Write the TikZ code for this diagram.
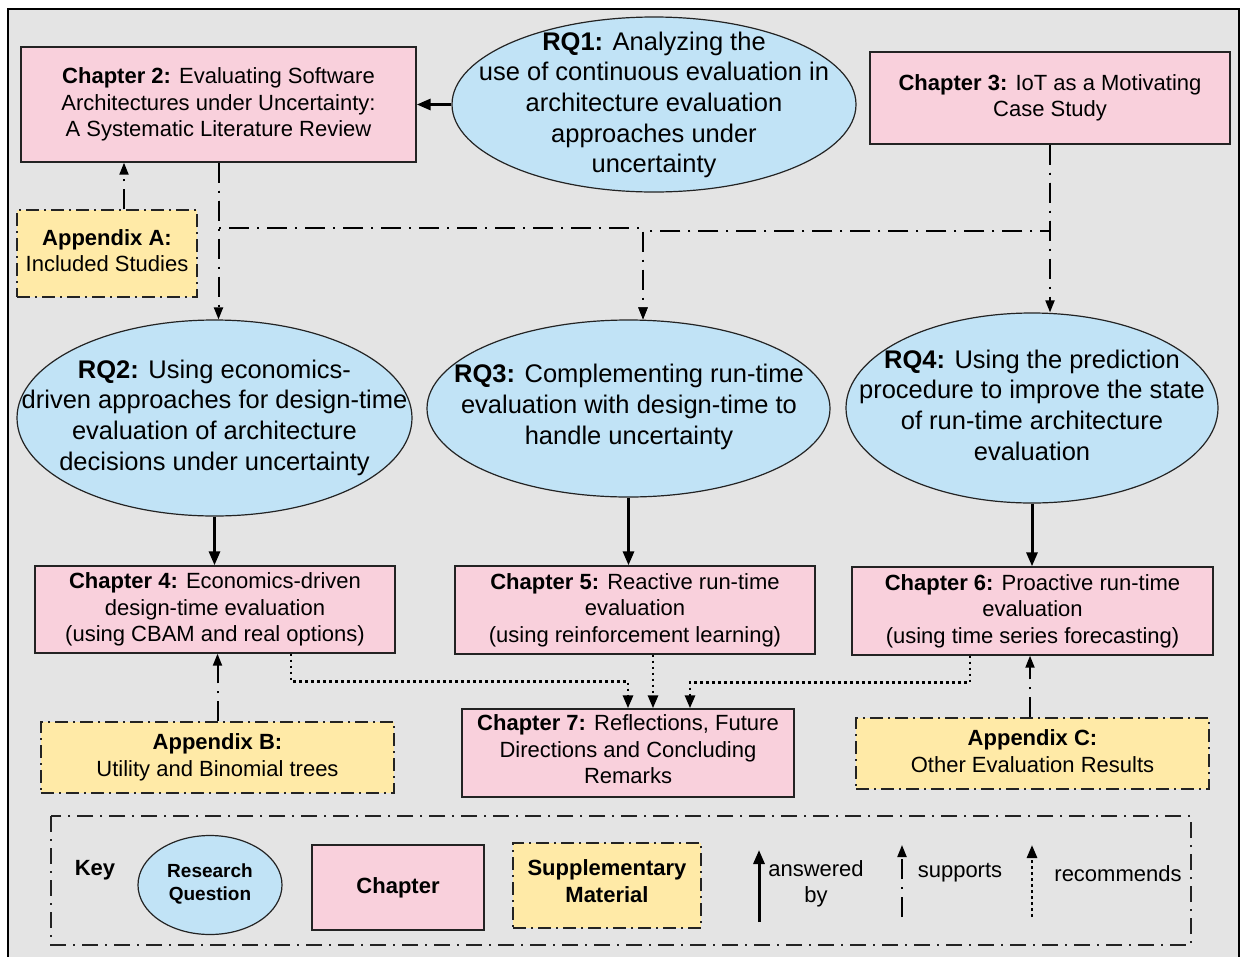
\documentclass[tikz,border=0pt]{standalone}
\usepackage{fontspec}
\setmainfont{Liberation Sans}
\usetikzlibrary{arrows.meta,shapes.geometric}

\definecolor{bggray}{RGB}{228,228,228}
\definecolor{chpink}{RGB}{249,208,220}
\definecolor{rqblue}{RGB}{193,227,246}
\definecolor{appyellow}{RGB}{255,234,167}
\definecolor{edge}{RGB}{35,35,35}

\newcommand\chfont{\fontsize{22}{26.5}\selectfont}
\newcommand\rqfont{\fontsize{25.5}{30.7}\selectfont}
\newcommand\keyrqfont{\fontsize{19}{23}\selectfont}

\tikzset{
  chapter/.style={draw=edge, line width=1.4pt, fill=chpink, align=center,
    inner sep=0pt, font=\chfont},
  rq/.style={ellipse, draw=edge, line width=1.2pt, fill=rqblue, inner sep=0pt},
  rqtext/.style={align=center, font=\rqfont, inner sep=0pt},
  appendixbox/.style={draw=edge, line width=1.3pt, fill=appyellow, align=center,
    inner sep=0pt, font=\chfont, dash pattern=on 13pt off 5pt on 2pt off 5pt},
  answered/.style={draw=black, line width=3pt, -{Triangle[length=14pt,width=11pt]}},
  supports/.style={draw=black, line width=2pt,
    dash pattern=on 20pt off 8pt on 2pt off 8pt, -{Triangle[length=12pt,width=9pt]}},
  recommends/.style={draw=black, line width=2.8pt,
    dash pattern=on 2.6pt off 3.4pt, -{Triangle[length=13pt,width=10pt]}},
  keylabel/.style={align=center, font=\chfont, inner sep=0pt},
}

\begin{document}
\begin{tikzpicture}[x=1pt, y=-1pt]
\useasboundingbox (0,0) rectangle (1245,956);

% canvas
\draw[fill=bggray, draw=black, line width=1.5pt] (8,9) rectangle (1239,966);

% top row
\node[chapter, minimum width=395pt, minimum height=115pt] (ch2) at (218.5,104.5)
  {\textbf{Chapter 2:} Evaluating Software\\Architectures under Uncertainty:\\A Systematic Literature Review};
\node[rq, minimum width=404pt, minimum height=175pt] (rq1) at (654,104.5) {};
\node[rqtext] at (654,105)
  {\textbf{RQ1:} Analyzing the\\use of continuous evaluation in\\architecture evaluation\\approaches under\\uncertainty};
\node[chapter, minimum width=360pt, minimum height=92pt] (ch3) at (1050,98)
  {\textbf{Chapter 3:} IoT as a Motivating\\Case Study};
\node[appendixbox, minimum width=180pt, minimum height=87pt] (appA) at (107,253.5)
  {\textbf{Appendix A:}\\Included Studies\rule[-6pt]{0pt}{4pt}};

% research questions
\node[rq, minimum width=395pt, minimum height=196pt] (rq2) at (214.5,418) {};
\node[rqtext] at (214.5,417.5)
  {\textbf{RQ2:} Using economics-\\driven approaches for design-time\\evaluation of architecture\\decisions under uncertainty};
\node[rq, minimum width=403pt, minimum height=177pt] (rq3) at (628.5,408.5) {};
\node[rqtext] at (629,407)
  {\textbf{RQ3:} Complementing run-time\\evaluation with design-time to\\handle uncertainty};
\node[rq, minimum width=372pt, minimum height=190pt] (rq4) at (1032,408) {};
\node[rqtext] at (1032,405)
  {\textbf{RQ4:} Using the prediction\\procedure to improve the state\\of run-time architecture\\evaluation};

% chapters 4--7
\node[chapter, minimum width=360pt, minimum height=87pt] (ch4) at (215,609.5)
  {\textbf{Chapter 4:} Economics-driven\\design-time evaluation\\(using CBAM and real options)};
\node[chapter, minimum width=360pt, minimum height=88pt] (ch5) at (635,610)
  {\textbf{Chapter 5:} Reactive run-time\\evaluation\\(using reinforcement learning)};
\node[chapter, minimum width=361pt, minimum height=88pt] (ch6) at (1032.5,611)
  {\textbf{Chapter 6:} Proactive run-time\\evaluation\\(using time series forecasting)};
\node[chapter, minimum width=332pt, minimum height=88pt] (ch7) at (628,753)
  {\textbf{Chapter 7:} Reflections, Future\\Directions and Concluding\\Remarks\rule[-7pt]{0pt}{4pt}};

% appendices B and C
\node[appendixbox, minimum width=353pt, minimum height=71pt] (appB) at (217.5,757.5)
  {\textbf{Appendix B:}\\Utility and Binomial trees};
\node[appendixbox, minimum width=353pt, minimum height=71pt] (appC) at (1032.5,753.5)
  {\textbf{Appendix C:}\\Other Evaluation Results\rule[-5pt]{0pt}{4pt}};

% answered by
\draw[answered] (rq1) -- (ch2);
\draw[answered] (rq2.south) -- (rq2.south |- ch4.north);
\draw[answered] (rq3.south) -- (rq3.south |- ch5.north);
\draw[answered] (rq4.south) -- (rq4.south |- ch6.north);

% supports
\draw[supports] (ch2.south) -- (ch2.south |- rq2.north);
\draw[supports] (ch2.south) -- (218.5,228) -| ([xshift=14.5pt]rq3.north);
\draw[supports] (ch3.south) -- (1050,231) -| ([xshift=14.5pt]rq3.north);
\draw[supports] (ch3.south) -- (ch3.south |- rq4.north);
\draw[supports] ([xshift=17pt]appA.north) -- ([xshift=17pt]appA.north |- ch2.south);
\draw[supports] (appB.north) -- (appB.north |- ch4.south);
\draw[supports] ([xshift=-2.5pt]appC.north) -- ([xshift=-2.5pt]appC.north |- ch6.south);

% recommends
\draw[recommends] ([xshift=76pt]ch4.south) -- ++(0,28) -| (ch7.north);
\draw[recommends] ([xshift=18pt]ch5.south) -- ([xshift=25pt]ch7.north);
\draw[recommends] ([xshift=-62.5pt]ch6.south) -- ++(0,27) -| ([xshift=62pt]ch7.north);

% key
\draw[draw=edge, line width=1.3pt, dash pattern=on 16pt off 7pt on 2pt off 7pt]
  (51,816) rectangle (1191,945);
\node[keylabel, font=\bfseries\chfont] (key) at (95,870) {Key};
\node[rq, minimum width=144pt, minimum height=99pt] (keyrq) at (210,885) {};
\node[align=center, font=\bfseries\keyrqfont, inner sep=0pt] at (210,884) {Research\\Question};
\node[chapter, minimum width=172pt, minimum height=85pt, font=\bfseries\chfont] (keych) at (398,887.5) {Chapter};
\node[appendixbox, minimum width=188pt, minimum height=85pt, font=\bfseries\chfont] (keyapp) at (607,885.5)
  {Supplementary\\Material\rule[-9pt]{0pt}{4pt}};

\coordinate (ansA) at (759,922);
\coordinate (ansB) at (759,850);
\draw[answered] (ansA) -- (ansB);
\node[keylabel] (anslbl) at (816,884) {answered\\by};

\coordinate (supA) at (902,917);
\coordinate (supB) at (902,845);
\draw[supports] (supA) -- (supB);
\node[keylabel] (suplbl) at (960,873) {supports};

\coordinate (recA) at (1032,917);
\coordinate (recB) at (1032,845);
\draw[recommends] (recA) -- (recB);
\node[keylabel] (reclbl) at (1118,874) {recommends};
\end{tikzpicture}
\end{document}
